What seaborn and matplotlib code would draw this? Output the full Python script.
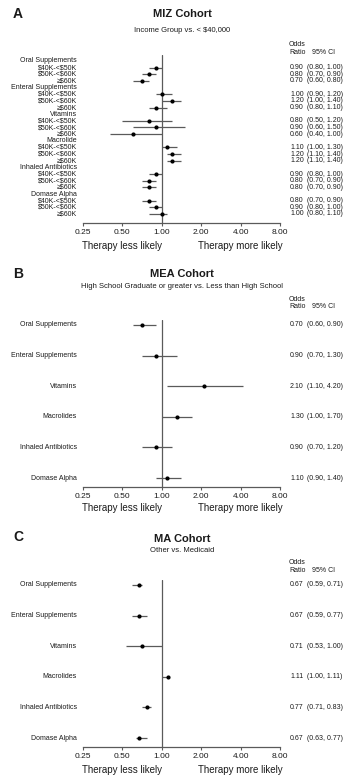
import numpy as np
import pandas as pd
import matplotlib
matplotlib.use("Agg")
import matplotlib.pyplot as plt
import matplotlib.transforms as mtransforms
from matplotlib.ticker import FixedLocator, FuncFormatter, NullLocator
import seaborn as sns

sns.set_theme(style="white")
plt.rcParams['font.family'] = ['Liberation Sans', 'DejaVu Sans']

# ---------------- data ----------------
categories_a = ["Oral Supplements", "Enteral Supplements", "Vitamins",
                "Macrolide", "Inhaled Antibiotics", "Domase Alpha"]
income_groups = ["$40K-<$50K", "$50K-<$60K", "\u2265$60K"]
or_a = [0.90, 0.80, 0.70, 1.00, 1.20, 0.90, 0.80, 0.90, 0.60,
        1.10, 1.20, 1.20, 0.90, 0.80, 0.80, 0.80, 0.90, 1.00]
lo_a = [0.80, 0.70, 0.60, 0.90, 1.00, 0.80, 0.50, 0.60, 0.40,
        1.00, 1.10, 1.10, 0.80, 0.70, 0.70, 0.70, 0.80, 0.80]
hi_a = [1.00, 0.90, 0.80, 1.20, 1.40, 1.10, 1.20, 1.50, 1.00,
        1.30, 1.40, 1.40, 1.00, 0.90, 0.90, 0.90, 1.00, 1.10]

categories_bc = ["Oral Supplements", "Enteral Supplements", "Vitamins",
                 "Macrolides", "Inhaled Antibiotics", "Domase Alpha"]
or_b = [0.70, 0.90, 2.10, 1.30, 0.90, 1.10]
lo_b = [0.60, 0.70, 1.10, 1.00, 0.70, 0.90]
hi_b = [0.90, 1.30, 4.20, 1.70, 1.20, 1.40]

or_c = [0.67, 0.67, 0.71, 1.11, 0.77, 0.67]
lo_c = [0.59, 0.59, 0.53, 1.00, 0.71, 0.63]
hi_c = [0.71, 0.77, 1.00, 1.11, 0.83, 0.77]

xticks = [0.25, 0.50, 1.00, 2.00, 4.00, 8.00]

panels = [
    dict(letter="A", title="MIZ Cohort", subtitle="Income Group vs. < $40,000"),
    dict(letter="B", title="MEA Cohort",
         subtitle="High School Graduate or greater vs. Less than High School"),
    dict(letter="C", title="MA Cohort", subtitle="Other vs. Medicaid"),
]

# ---------------- figure ----------------
W, H = 346, 779
fig = plt.figure(figsize=(W / 100, H / 100), dpi=100)
TXT = "#1a1a1a"
LINE = "#5a5a5a"


def fx(px):
    return px / W


def fy(py):
    return 1 - py / H


def make_axes(top_px, bottom_px):
    left, right = 83, 280
    return fig.add_axes([fx(left), fy(bottom_px), (right - left) / W,
                         (bottom_px - top_px) / H])


def style_axes(ax, top_px, bottom_px, first_px, step_px):
    ax.set_xscale("log", base=2)
    ax.set_xlim(0.25, 8)
    ax.set_ylim((bottom_px - first_px) / step_px, (top_px - first_px) / step_px)
    ax.axvline(1.0, color=LINE, lw=0.9, zorder=1)
    for s in ["top", "right", "left"]:
        ax.spines[s].set_visible(False)
    ax.spines["bottom"].set_color(LINE)
    ax.spines["bottom"].set_linewidth(0.9)
    ax.xaxis.set_major_locator(FixedLocator(xticks))
    ax.xaxis.set_minor_locator(NullLocator())
    ax.xaxis.set_major_formatter(FuncFormatter(lambda v, p: f"{v:.2f}"))
    ax.tick_params(axis="x", direction="out", length=2, width=0.8,
                   color=LINE, pad=2.5, labelsize=6, labelcolor=TXT, bottom=True)
    ax.set_yticks([])
    ax.set_xlabel("")
    ax.set_ylabel("")
    ax.grid(False)
    ax.patch.set_alpha(0)


def draw_forest(ax, ors, los, his, pos):
    df = pd.DataFrame({"or": ors, "lo": los, "hi": his, "pos": pos})
    ax.hlines(df["pos"], df["lo"], df["hi"], color=LINE, lw=0.9, zorder=2)
    sns.scatterplot(data=df, x="or", y="pos", ax=ax, color="black", s=9,
                    marker="o", edgecolor="black", linewidth=0, zorder=3,
                    legend=False)


def headers(p, title_y, sub_y, odds_y, ratio_y, letter_y):
    fig.text(fx(13), fy(letter_y), p["letter"], fontsize=10, fontweight="bold",
             color=TXT, ha="left", va="center")
    fig.text(fx(182), fy(title_y), p["title"], fontsize=8, fontweight="bold",
             color=TXT, ha="center", va="center")
    fig.text(fx(182), fy(sub_y), p["subtitle"], fontsize=5.5, color=TXT,
             ha="center", va="center", parse_math=False)
    fig.text(fx(289), fy(odds_y), "Odds", fontsize=5, color=TXT, ha="left",
             va="center")
    fig.text(fx(289), fy(ratio_y), "Ratio", fontsize=5, color=TXT, ha="left",
             va="center")
    fig.text(fx(312), fy(ratio_y), "95% CI", fontsize=5, color=TXT, ha="left",
             va="center")


def bottom_labels(ax, y_px):
    tr = mtransforms.blended_transform_factory(ax.transData, fig.transFigure)
    ax.text(0.5, fy(y_px), "Therapy less likely", transform=tr, fontsize=7,
            color=TXT, ha="center", va="center")
    ax.text(4.0, fy(y_px), "Therapy more likely", transform=tr, fontsize=7,
            color=TXT, ha="center", va="center")


def value_text(ax, pos, o, l, h):
    tr = mtransforms.blended_transform_factory(fig.transFigure, ax.transData)
    ax.text(fx(290), pos, f"{o:.2f}", transform=tr, fontsize=5, color=TXT,
            ha="left", va="center", clip_on=False)
    ax.text(fx(307), pos, f"({l:.2f}, {h:.2f})", transform=tr, fontsize=5,
            color=TXT, ha="left", va="center", clip_on=False)


def row_label(ax, pos, s):
    tr = mtransforms.blended_transform_factory(fig.transFigure, ax.transData)
    ax.text(fx(77), pos, s, transform=tr, fontsize=5, color=TXT,
            ha="right", va="center", clip_on=False, parse_math=False)


# ---------------- Panel A ----------------
top_a, bot_a, first_a, step_a = 55, 222.7, 61, 6.65
ax_a = make_axes(top_a, bot_a)
pos_a = []
row = 0
k = 0
for cat in categories_a:
    row_label(ax_a, row, cat)
    row += 1
    for g in income_groups:
        row_label(ax_a, row, g)
        value_text(ax_a, row, or_a[k], lo_a[k], hi_a[k])
        pos_a.append(row)
        row += 1
        k += 1
draw_forest(ax_a, or_a, lo_a, hi_a, pos_a)
style_axes(ax_a, top_a, bot_a, first_a, step_a)
headers(panels[0], 14, 30, 45, 52, 13.5)
bottom_labels(ax_a, 246)

# ---------------- Panel B ----------------
top_b, bot_b, first_b, step_b = 320, 487, 325, 30.6
ax_b = make_axes(top_b, bot_b)
pos_b = list(range(len(categories_bc)))
for i, cat in enumerate(categories_bc):
    row_label(ax_b, i, cat)
    value_text(ax_b, i, or_b[i], lo_b[i], hi_b[i])
draw_forest(ax_b, or_b, lo_b, hi_b, pos_b)
style_axes(ax_b, top_b, bot_b, first_b, step_b)
headers(panels[1], 274, 287, 299, 306, 274)
bottom_labels(ax_b, 508)

# ---------------- Panel C ----------------
top_c, bot_c, first_c, step_c = 580, 747, 585, 30.6
ax_c = make_axes(top_c, bot_c)
pos_c = list(range(len(categories_bc)))
for i, cat in enumerate(categories_bc):
    row_label(ax_c, i, cat)
    value_text(ax_c, i, or_c[i], lo_c[i], hi_c[i])
draw_forest(ax_c, or_c, lo_c, hi_c, pos_c)
style_axes(ax_c, top_c, bot_c, first_c, step_c)
headers(panels[2], 539.5, 550, 563, 570, 537)
bottom_labels(ax_c, 770)

fig.savefig("out.png", dpi=100, facecolor="white")
